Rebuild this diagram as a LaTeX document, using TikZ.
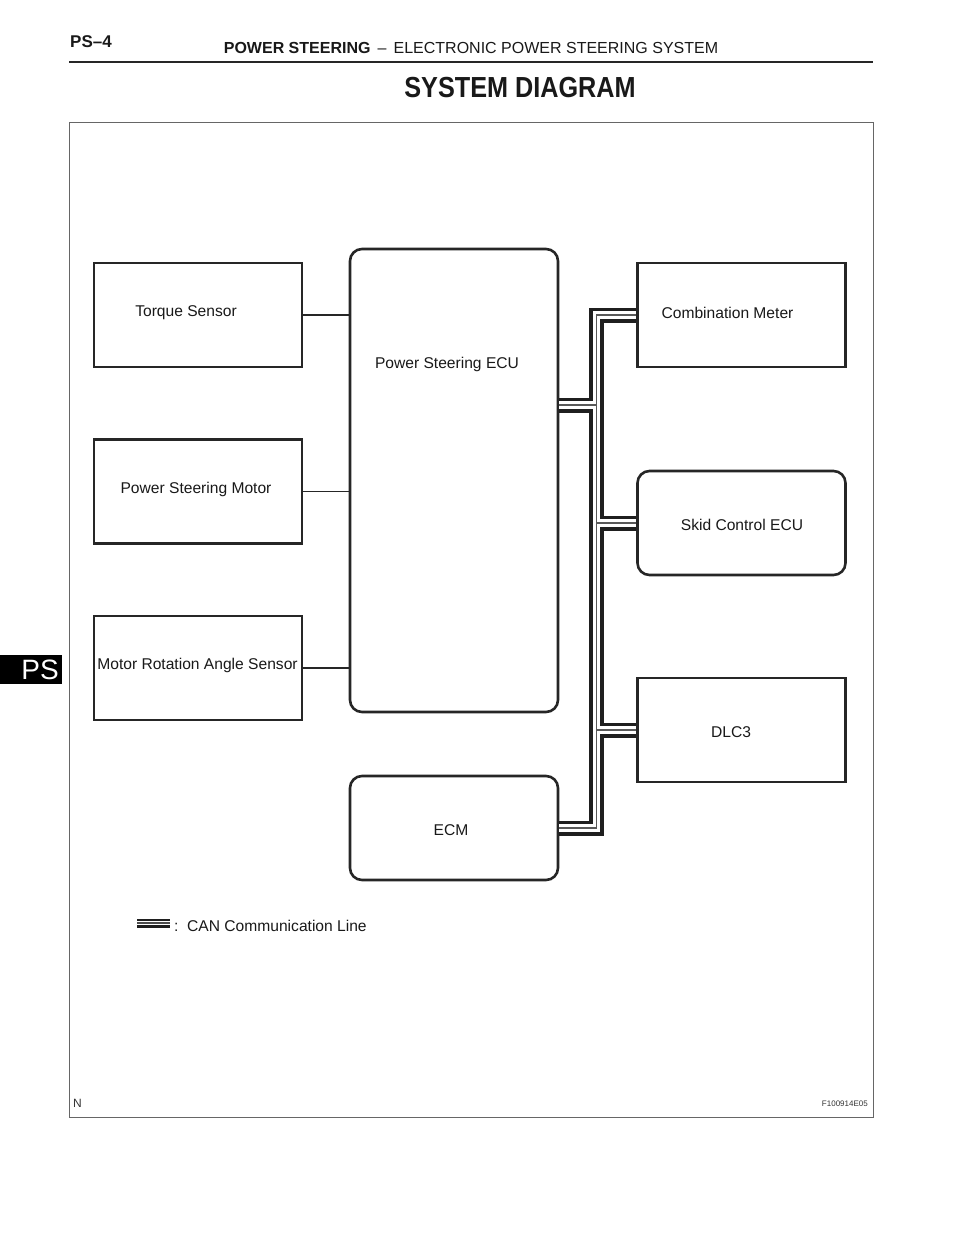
\documentclass[tikz,border=0pt]{standalone}
\usepackage{fontspec}
\setmainfont{Liberation Sans}
\usepackage{graphicx}
\begin{document}
\begin{tikzpicture}[x=1pt,y=-1pt,
  sqbox/.style={draw=black!85, line width=2.6pt, fill=white, minimum width=208pt, minimum height=104pt, inner sep=0pt},
  rbox/.style={sqbox, rounded corners=12pt},
  lbl/.style={font=\fontsize{15.6}{18}\selectfont, text=black!90, inner sep=0pt},
  conn/.style={draw=black!85, line width=1.4pt},
  busA/.style={draw=black!88, line width=15pt},
  busB/.style={draw=white, line width=7.4pt},
  busC/.style={draw=black!65, line width=1.4pt}
]
\useasboundingbox (0,0) rectangle (960,1242);
\fill[white] (0,0) rectangle (960,1242);

% header
\node[anchor=west, inner sep=0pt, font=\fontsize{17}{20}\selectfont\bfseries, text=black!90] (pg) at (70,42) {PS–4};
\node[inner sep=0pt, font=\fontsize{16}{19}\selectfont, text=black!90] (hd) at (471,48) {\textbf{POWER STEERING} \,–\, ELECTRONIC POWER STEERING SYSTEM};
\draw[black!85, line width=2.6pt] (69,62) -- (873,62);
\node[inner sep=0pt, font=\fontsize{29}{32}\selectfont\bfseries, text=black!90] (title) at (520,88) {\scalebox{0.87}[1]{SYSTEM DIAGRAM}};

% side tab
\fill[black] (0,655) rectangle (62,684);
\node[anchor=east, inner sep=0pt, font=\fontsize{28}{30}\selectfont, text=white] (tab) at (59,670) {PS};

% frame
\draw[black!60, line width=1pt] (69,122) rectangle (873,1117);
\node[anchor=west, inner sep=0pt, font=\fontsize{12}{14}\selectfont, text=black!80] (nn) at (73,1103) {N};
\node[anchor=east, inner sep=0pt, font=\fontsize{8}{10}\selectfont, text=black!80] (fig) at (868,1104) {F100914E05};

% boxes
\node[rbox, minimum height=463pt] (ecu) at (454,480.5) {};
\node[rbox] (ecm) at (454,828) {};
\node[sqbox] (cm) at (741.5,315) {};
\node[rbox] (sk) at (741.5,523) {};
\node[sqbox] (dlc) at (741.5,730) {};
\node[sqbox] (ts) at (198,315) {};
\node[sqbox] (psm) at (198,491.5) {};
\node[sqbox] (mr) at (198,668) {};

% CAN bus
\coordinate (j1) at (596.5,405);
\foreach \st in {busA,busB,busC}{
  \draw[\st] (ecu.east |- j1) -- (j1) -- (j1 |- cm.west) -- (cm.west)
             (j1) -- (j1 |- ecm.east) -- (ecm.east)
             (j1 |- sk.west) -- (sk.west)
             (j1 |- dlc.west) -- (dlc.west);
}

% plain connectors
\draw[conn] (ts.east) -- (ts.east -| ecu.west);
\draw[conn] (psm.east) -- (psm.east -| ecu.west);
\draw[conn] (mr.east) -- (mr.east -| ecu.west);

% labels
\node[lbl] at (186,313) {Torque Sensor};
\node[lbl] at (196,489) {Power Steering Motor};
\node[lbl] at (197.5,665.5) {Motor Rotation Angle Sensor};
\node[lbl] at (447,364) {Power Steering ECU};
\node[lbl] at (451,830) {ECM};
\node[lbl] at (727.5,313) {Combination Meter};
\node[lbl] at (742,525) {Skid Control ECU};
\node[lbl] at (731,732) {DLC3};

% legend
\coordinate (lg1) at (137,923);
\coordinate (lg2) at (170,923);
\draw[draw=black!88, line width=9pt] (lg1) -- (lg2);
\draw[draw=white, line width=4.4pt] (lg1) -- (lg2);
\draw[draw=black!70, line width=1.2pt] (lg1) -- (lg2);
\node[lbl, anchor=west] at (174,926) {:\ \ CAN Communication Line};
\end{tikzpicture}
\end{document}
